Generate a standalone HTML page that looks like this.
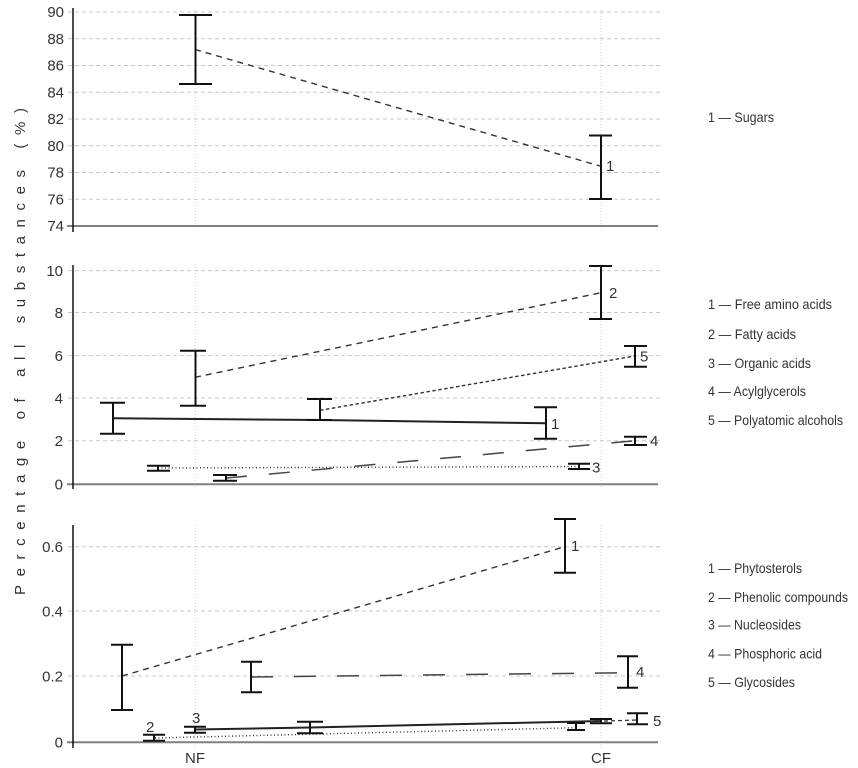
<!DOCTYPE html>
<html><head><meta charset="utf-8"><style>
html,body{margin:0;padding:0;background:#fff;}
svg{display:block;}
text{font-family:"Liberation Sans",Arial,sans-serif;fill:#333;}
</style></head><body>
<svg width="858" height="768" viewBox="0 0 858 768" xmlns="http://www.w3.org/2000/svg">
<!-- Y axis label -->
<text transform="translate(25,595) rotate(-90)" x="0" y="0" font-size="15" textLength="487" lengthAdjust="spacing">Percentage of all substances (%)</text>

<!-- ========== TOP PANEL ========== -->
<g stroke="#c8c8c8" stroke-width="1" stroke-dasharray="4,3">
<line x1="68" y1="12" x2="660" y2="12"/>
<line x1="68" y1="38.8" x2="660" y2="38.8"/>
<line x1="68" y1="65.5" x2="660" y2="65.5"/>
<line x1="68" y1="92.3" x2="660" y2="92.3"/>
<line x1="68" y1="119" x2="660" y2="119"/>
<line x1="68" y1="145.8" x2="660" y2="145.8"/>
<line x1="68" y1="172.5" x2="660" y2="172.5"/>
<line x1="68" y1="199.3" x2="660" y2="199.3"/>
</g>
<g stroke="#d0d0d0" stroke-width="1" stroke-dasharray="1,2">
<line x1="195" y1="10" x2="195" y2="230"/>
<line x1="601" y1="10" x2="601" y2="230"/>
</g>
<line x1="67" y1="226" x2="658" y2="226" stroke="#808080" stroke-width="2"/>
<line x1="73" y1="8" x2="73" y2="232" stroke="#111" stroke-width="1.5"/>
<g font-size="15" text-anchor="end">
<text x="64" y="17">90</text>
<text x="64" y="44">88</text>
<text x="64" y="70.5">86</text>
<text x="64" y="97.5">84</text>
<text x="64" y="124">82</text>
<text x="64" y="151">80</text>
<text x="64" y="177.5">78</text>
<text x="64" y="204.5">76</text>
<text x="64" y="231">74</text>
</g>
<line x1="195" y1="49.5" x2="600" y2="166" stroke="#333" stroke-width="1.4" stroke-dasharray="6,5"/>
<g stroke="#111" stroke-width="2" fill="none">
<path d="M179 15H212M195.5 15V84M179 84H212"/>
<path d="M589 135.5H612M601 135.5V199M589 199H612"/>
</g>
<text x="606" y="171" font-size="15">1</text>
<text x="708" y="122" font-size="14" textLength="66" lengthAdjust="spacingAndGlyphs">1 — Sugars</text>

<!-- ========== MIDDLE PANEL ========== -->
<g stroke="#c8c8c8" stroke-width="1" stroke-dasharray="4,3">
<line x1="68" y1="270.6" x2="660" y2="270.6"/>
<line x1="68" y1="312.5" x2="660" y2="312.5"/>
<line x1="68" y1="355.6" x2="660" y2="355.6"/>
<line x1="68" y1="398" x2="660" y2="398"/>
<line x1="68" y1="440.8" x2="660" y2="440.8"/>
</g>
<g stroke="#d0d0d0" stroke-width="1" stroke-dasharray="1,2">
<line x1="195" y1="264" x2="195" y2="489"/>
<line x1="601" y1="264" x2="601" y2="489"/>
</g>
<line x1="67" y1="484.3" x2="658" y2="484.3" stroke="#808080" stroke-width="2"/>
<line x1="73" y1="265" x2="73" y2="489" stroke="#111" stroke-width="1.5"/>
<g font-size="15" text-anchor="end">
<text x="63" y="276">10</text>
<text x="63" y="318">8</text>
<text x="63" y="361">6</text>
<text x="63" y="403.5">4</text>
<text x="63" y="446">2</text>
<text x="63" y="489.5">0</text>
</g>
<!-- series lines -->
<polyline points="113,418.3 320,420 546,423.3" fill="none" stroke="#222" stroke-width="2"/>
<line x1="195" y1="377.3" x2="601" y2="292.7" stroke="#333" stroke-width="1.4" stroke-dasharray="6,5"/>
<line x1="320" y1="410.3" x2="635" y2="356" stroke="#333" stroke-width="1.4" stroke-dasharray="3.5,2.5"/>
<line x1="158" y1="468" x2="579" y2="466.5" stroke="#333" stroke-width="1.4" stroke-dasharray="1,2.5"/>
<line x1="226" y1="478" x2="635" y2="440.7" stroke="#444" stroke-width="1.5" stroke-dasharray="21,22"/>
<g stroke="#111" stroke-width="2" fill="none">
<path d="M100 402.7H125M113 402.7V433.7M100 433.7H125"/>
<path d="M534 407.3H557M546 407.3V438.7M534 438.7H557"/>
<path d="M180 350.7H206M195.5 350.7V405.7M180 405.7H206"/>
<path d="M589 266H612M601 266V319M589 319H612"/>
<path d="M307 399H332M320 399V420M307 420H332"/>
<path d="M624 346H647M635 346V366.7M624 366.7H647"/>
<path d="M147 465.7H170M158 465.7V470.7M147 470.7H170"/>
<path d="M568 463.7H590M579 463.7V469M568 469H590"/>
<path d="M213 475H237M226 475V480.7M213 480.7H237"/>
<path d="M624 436.7H647M635 436.7V445M624 445H647"/>
</g>
<g font-size="15">
<text x="551" y="429">1</text>
<text x="609" y="298">2</text>
<text x="640" y="361.5">5</text>
<text x="592" y="472.5">3</text>
<text x="650" y="446">4</text>
</g>
<g font-size="14">
<text x="708" y="309" textLength="124" lengthAdjust="spacingAndGlyphs">1 — Free amino acids</text>
<text x="708" y="339" textLength="88" lengthAdjust="spacingAndGlyphs">2 — Fatty acids</text>
<text x="708" y="368" textLength="103" lengthAdjust="spacingAndGlyphs">3 — Organic acids</text>
<text x="708" y="396" textLength="98" lengthAdjust="spacingAndGlyphs">4 — Acylglycerols</text>
<text x="708" y="425" textLength="135" lengthAdjust="spacingAndGlyphs">5 — Polyatomic alcohols</text>
</g>

<!-- ========== BOTTOM PANEL ========== -->
<g stroke="#c8c8c8" stroke-width="1" stroke-dasharray="4,3">
<line x1="68" y1="546.7" x2="660" y2="546.7"/>
<line x1="68" y1="611" x2="660" y2="611"/>
<line x1="68" y1="676" x2="660" y2="676"/>
</g>
<g stroke="#d0d0d0" stroke-width="1" stroke-dasharray="1,2">
<line x1="195" y1="525" x2="195" y2="749"/>
<line x1="601" y1="525" x2="601" y2="749"/>
</g>
<line x1="67" y1="742.3" x2="658" y2="742.3" stroke="#808080" stroke-width="2"/>
<line x1="73" y1="525" x2="73" y2="748" stroke="#111" stroke-width="1.5"/>
<g font-size="15" text-anchor="end">
<text x="63" y="552">0.6</text>
<text x="63" y="616.5">0.4</text>
<text x="63" y="681.5">0.2</text>
<text x="63" y="747.5">0</text>
</g>
<line x1="122" y1="676" x2="565" y2="546.7" stroke="#333" stroke-width="1.4" stroke-dasharray="6,5"/>
<line x1="251" y1="677" x2="628" y2="672.7" stroke="#444" stroke-width="1.5" stroke-dasharray="22,21"/>
<line x1="155" y1="738" x2="576" y2="727.7" stroke="#333" stroke-width="1.4" stroke-dasharray="1,2.5"/>
<polyline points="195,729.5 310,727.5 601,721" fill="none" stroke="#222" stroke-width="2"/>
<line x1="576" y1="722" x2="637" y2="720" stroke="#333" stroke-width="1.3" stroke-dasharray="4,3"/>
<g stroke="#111" stroke-width="2" fill="none">
<path d="M111 644.7H133M122 644.7V710M111 710H133"/>
<path d="M554 519H576M565 519V572.7M554 572.7H576"/>
<path d="M241 661.7H262M251 661.7V692.3M241 692.3H262"/>
<path d="M617 656.3H638M628 656.3V687.7M617 687.7H638"/>
<path d="M143 734.7H165M154 734.7V740.7M143 740.7H165"/>
<path d="M567 723H585M576 723V730M567 730H585"/>
<path d="M184 726.7H206M195 726.7V732.7M184 732.7H206"/>
<path d="M297 721.7H323M310 721.7V733.3M297 733.3H323"/>
<path d="M590 719H612M601 719V723.3M590 723.3H612"/>
<path d="M627 713.3H648M637 713.3V724.3M627 724.3H648"/>
</g>
<g font-size="15">
<text x="571" y="551">1</text>
<text x="636" y="677">4</text>
<text x="146" y="732">2</text>
<text x="192" y="723">3</text>
<text x="653" y="726">5</text>
</g>
<g font-size="14">
<text x="708" y="573" textLength="94" lengthAdjust="spacingAndGlyphs">1 — Phytosterols</text>
<text x="708" y="602" textLength="140" lengthAdjust="spacingAndGlyphs">2 — Phenolic compounds</text>
<text x="708" y="629.5" textLength="93" lengthAdjust="spacingAndGlyphs">3 — Nucleosides</text>
<text x="708" y="658.5" textLength="114" lengthAdjust="spacingAndGlyphs">4 — Phosphoric acid</text>
<text x="708" y="687" textLength="87" lengthAdjust="spacingAndGlyphs">5 — Glycosides</text>
</g>
<g font-size="15" text-anchor="middle">
<text x="195" y="763">NF</text>
<text x="601" y="763">CF</text>
</g>
</svg>
</body></html>
